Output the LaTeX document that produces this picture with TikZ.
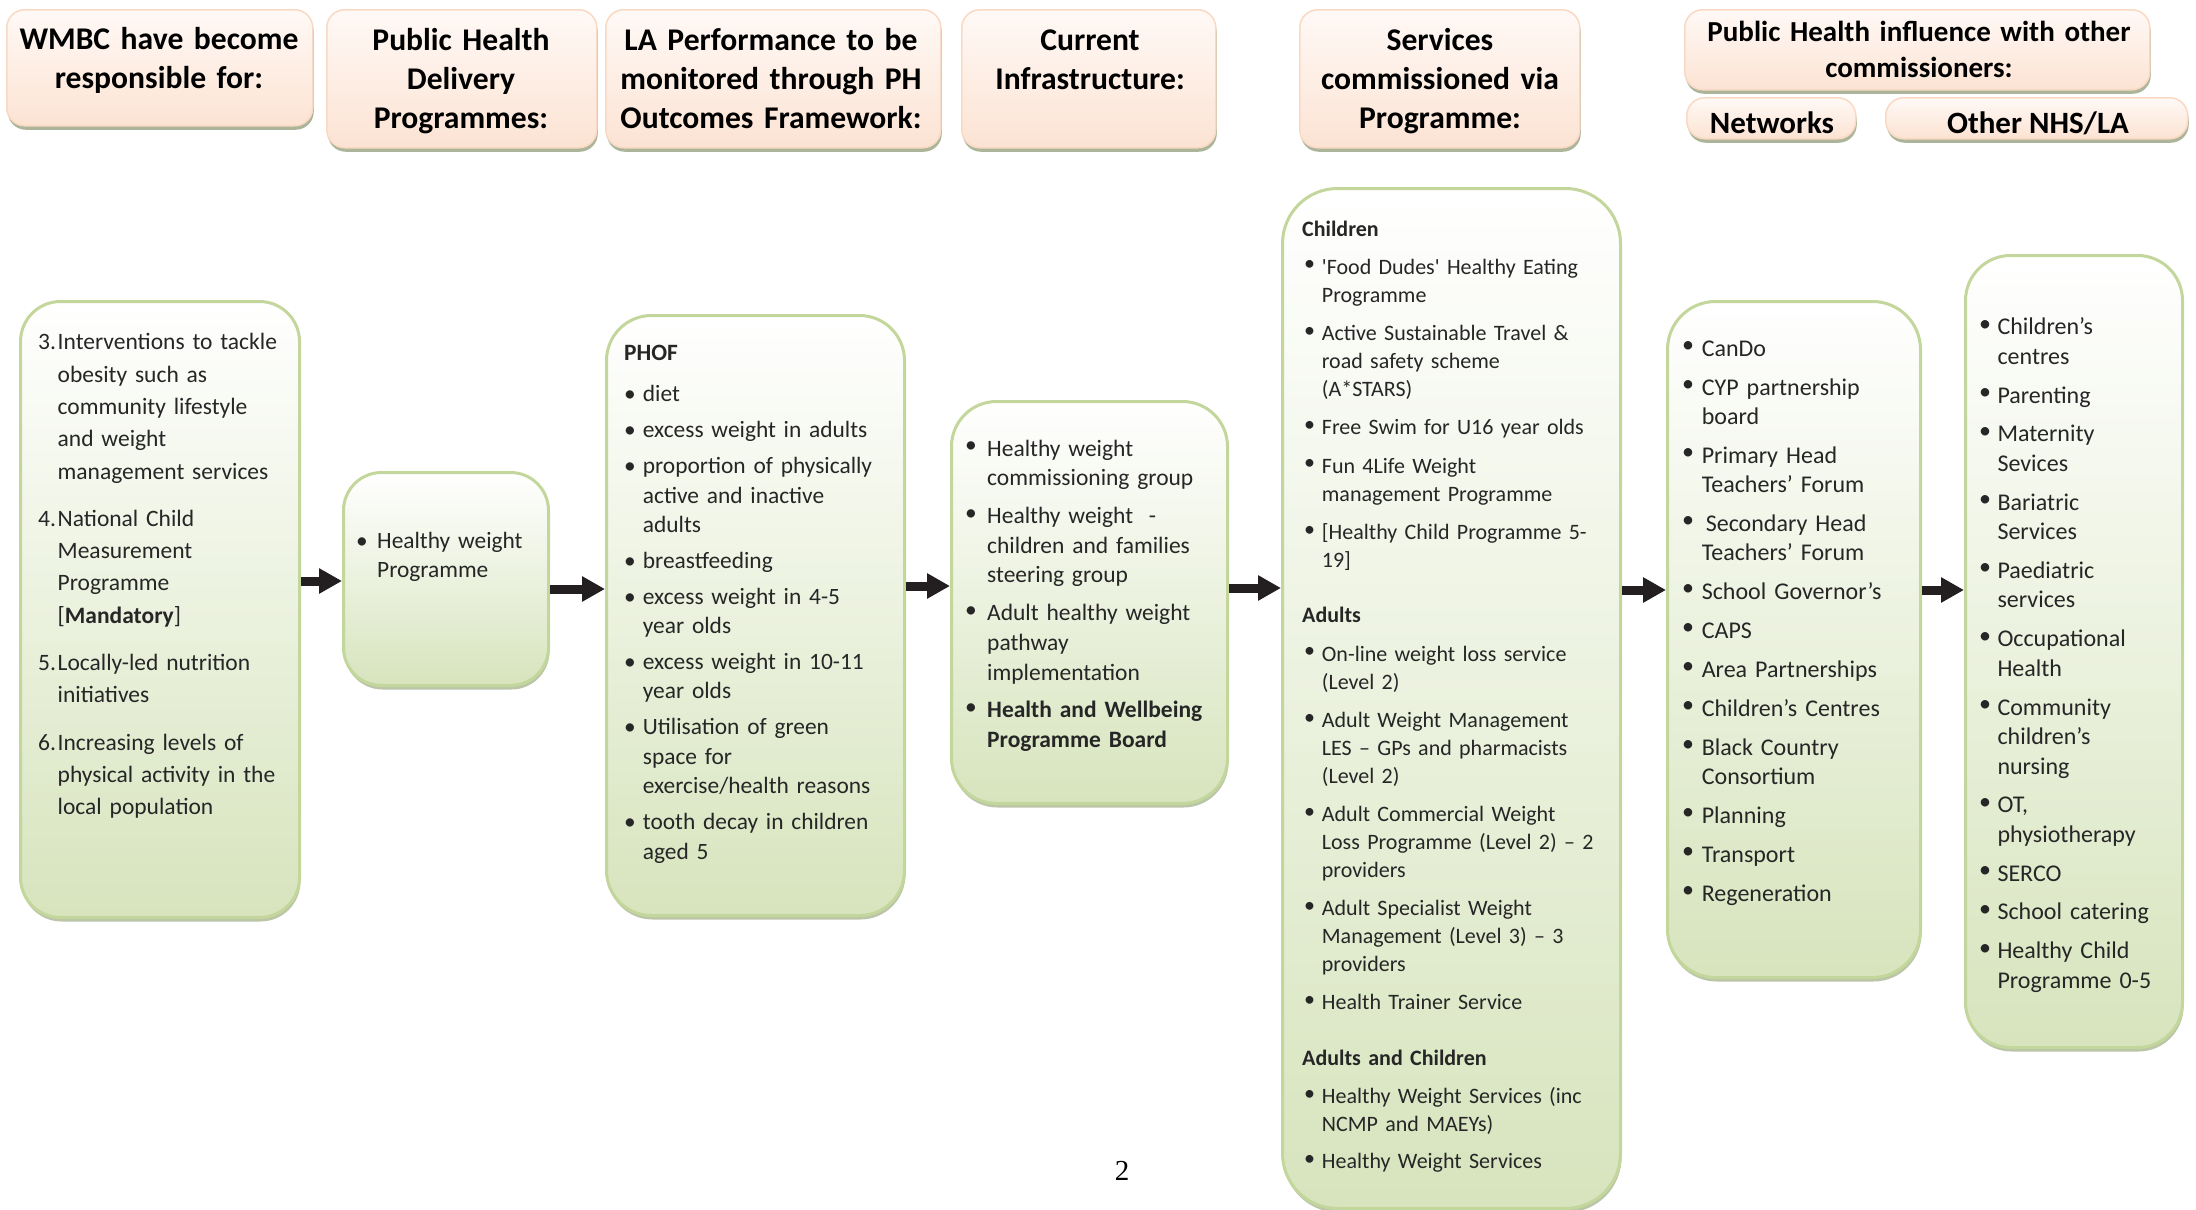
\documentclass[tikz,border=0pt]{standalone}
\usepackage{fontspec}
\setmainfont{Carlito}
\newfontfamily\serifpg{Liberation Serif}
\usetikzlibrary{arrows.meta,shadows}
\definecolor{gfill}{HTML}{D7E4BD}
\definecolor{gline}{HTML}{C3D69B}
\definecolor{pfill}{HTML}{FCE3D3}
\definecolor{ptop}{HTML}{FFF9F6}
\definecolor{pline}{HTML}{FAD9C4}
\definecolor{shd}{HTML}{A3AD8E}
\definecolor{gshd}{HTML}{B4BF9E}
\definecolor{txt}{HTML}{262626}
\definecolor{arrc}{HTML}{231F20}
\newlength\hng
\newcommand\Itm[2]{{\leftskip=\hng\noindent\hspace*{-\hng}\makebox[\hng][l]{#1}\strut#2\par}}
\newcommand\Hd[1]{{\leftskip=0pt\noindent\strut\textbf{#1}\par}}
\newcommand\bul{\textbullet}
\newcommand\rbul{\raisebox{3.5pt}{\textbullet}}
\newcommand\gp[1]{\vspace{#1pt}}
\tikzset{
  hbox/.style={draw=pline, line width=1.5pt, rounded corners=18pt, top color=ptop, bottom color=pfill,
    drop shadow={shadow xshift=1pt, shadow yshift=-4pt, fill=shd, opacity=0.9},
    inner sep=0pt, anchor=north west},
  mbox/.style={draw=gline, line width=3pt, top color=white, bottom color=gfill,
    drop shadow={shadow xshift=1pt, shadow yshift=-4pt, fill=gshd, opacity=0.9},
    inner sep=0pt, anchor=north west},
  htx/.style={anchor=north, inner sep=0pt, text width=340pt, align=center, text=black,
    font=\bfseries\fontsize{31.6}{39}\selectfont},
  btx/.style={anchor=north west, inner sep=0pt, text width=420pt, align=left, text=txt},
  arr/.style={line width=9pt, draw=arrc, -{Triangle[length=23pt,width=24pt]}},
}
\begin{document}
\begin{tikzpicture}[x=1pt,y=-1pt]
\useasboundingbox (0,0) rectangle (2196,1210);
% header boxes
\node[hbox, minimum width=306pt, minimum height=116pt] (h1) at (6,9) {};
\node[hbox, minimum width=270pt, minimum height=138pt] (h2) at (326,9) {};
\node[hbox, minimum width=335pt, minimum height=138pt] (h3) at (605,9) {};
\node[hbox, minimum width=254pt, minimum height=138pt] (h4) at (961,9) {};
\node[hbox, minimum width=280pt, minimum height=138pt] (h5) at (1299,9) {};
\node[hbox, minimum width=465pt, minimum height=80pt] (h6) at (1684,9) {};
\node[hbox, minimum width=169pt, minimum height=41pt] (h7) at (1686,97) {};
\node[hbox, minimum width=302pt, minimum height=41pt] (h8) at (1885,97) {};
\node[htx] (t1) at (159,22) {\strut WMBC have become\\responsible for:};
\node[htx] (t2) at (461,23.4) {\strut Public Health\\Delivery\\Programmes:};
\node[htx] (t3) at (771,23.4) {\strut LA Performance to be\\monitored through PH\\Outcomes Framework:};
\node[htx] (t4) at (1090,23.4) {\strut Current\\Infrastructure:};
\node[htx] (t5) at (1440,23.4) {\strut Services\\commissioned via\\Programme:};
\node[htx, text width=460pt, font=\bfseries\fontsize{29}{36.5}\selectfont] (t6) at (1919,15.7) {\strut Public Health influence with other\\commissioners:};
\node[anchor=base, inner sep=0pt, font=\bfseries\fontsize{31}{36}\selectfont] (t7) at (1772,133) {Networks};
\node[anchor=base, inner sep=0pt, font=\bfseries\fontsize{31}{36}\selectfont] (t8) at (2038,133) {Other NHS/LA};
% main boxes
\node[mbox, rounded corners=40pt, minimum width=279pt, minimum height=616pt] (b1) at (19,300) {};
\node[mbox, rounded corners=38pt, minimum width=205pt, minimum height=213pt] (b2) at (342,471) {};
\node[mbox, rounded corners=45pt, minimum width=298pt, minimum height=600pt] (b3) at (605,314) {};
\node[mbox, rounded corners=45pt, minimum width=276pt, minimum height=402pt] (b4) at (950,400) {};
\node[mbox, rounded corners=55pt, minimum width=338pt, minimum height=1020pt] (b5) at (1281,187) {};
\node[mbox, rounded corners=48pt, minimum width=253pt, minimum height=676pt] (b6) at (1666,300) {};
\node[mbox, rounded corners=45pt, minimum width=217pt, minimum height=792pt] (b7) at (1964,254) {};
% texts
\node[btx, font=\fontsize{23.5}{32.3}\selectfont] (x1) at (38,327) {\setlength\hng{19.5pt}%
\Itm{3.}{Interventions to tackle\\obesity such as\\community lifestyle\\and weight\\management services}\gp{15}
\Itm{4.}{National Child\\Measurement\\Programme\\{}[\textbf{Mandatory}]}\gp{15}
\Itm{5.}{Locally-led nutrition\\initiatives}\gp{15}
\Itm{6.}{Increasing levels of\\physical activity in the\\local population}};
\node[btx, font=\fontsize{23.4}{29}\selectfont] (x2) at (356,527.7) {\setlength\hng{21pt}%
\Itm{\bul}{Healthy weight\\Programme}};
\node[btx, font=\fontsize{23.4}{29.5}\selectfont] (x3) at (624,339.4) {\setlength\hng{18.7pt}%
\Hd{PHOF}\gp{12.2}
\Itm{\bul}{diet}\gp{6.3}
\Itm{\bul}{excess weight in adults}\gp{6.3}
\Itm{\bul}{proportion of physically\\active and inactive\\adults}\gp{6.3}
\Itm{\bul}{breastfeeding}\gp{6.3}
\Itm{\bul}{excess weight in 4-5\\year olds}\gp{6.3}
\Itm{\bul}{excess weight in 10-11\\year olds}\gp{6.3}
\Itm{\bul}{Utilisation of green\\space for\\exercise/health reasons}\gp{6.3}
\Itm{\bul}{tooth decay in children\\aged 5}};
\node[btx, font=\fontsize{23.5}{29.7}\selectfont] (x4) at (965,435.2) {\setlength\hng{22pt}%
\Itm{\rbul}{Healthy weight\\commissioning group}\gp{8}
\Itm{\rbul}{Healthy weight~~-\\children and families\\steering group}\gp{8}
\Itm{\rbul}{Adult healthy weight\\pathway\\implementation}\gp{8}
\Itm{\rbul}{\textbf{Health and Wellbeing\\Programme Board}}};
\node[btx, font=\fontsize{22}{27.7}\selectfont] (x5) at (1302,216.8) {\setlength\hng{19.7pt}%
\Hd{Children}\gp{10.4}
\Itm{\hspace{2pt}\rbul}{\textquotesingle Food Dudes\textquotesingle{} Healthy Eating\\Programme}\gp{10.9}
\Itm{\hspace{2pt}\rbul}{Active Sustainable Travel \&\\road safety scheme\\(A*STARS)}\gp{10.9}
\Itm{\hspace{2pt}\rbul}{Free Swim for U16 year olds}\gp{10.9}
\Itm{\hspace{2pt}\rbul}{Fun 4Life Weight\\management Programme}\gp{10.9}
\Itm{\hspace{2pt}\rbul}{[Healthy Child Programme 5-\\19]}\gp{27.5}
\Hd{Adults}\gp{11.2}
\Itm{\hspace{2pt}\rbul}{On-line weight loss service\\(Level 2)}\gp{10.9}
\Itm{\hspace{2pt}\rbul}{Adult Weight Management\\LES – GPs and pharmacists\\(Level 2)}\gp{10.9}
\Itm{\hspace{2pt}\rbul}{Adult Commercial Weight\\Loss Programme (Level 2) – 2\\providers}\gp{10.9}
\Itm{\hspace{2pt}\rbul}{Adult Specialist Weight\\Management (Level 3) – 3\\providers}\gp{10.9}
\Itm{\hspace{2pt}\rbul}{Health Trainer Service}\gp{28}
\Hd{Adults and Children}\gp{10.6}
\Itm{\hspace{2pt}\rbul}{Healthy Weight Services (inc\\NCMP and MAEYs)}\gp{9.8}
\Itm{\hspace{2pt}\rbul}{Healthy Weight Services}};
\node[btx, font=\fontsize{24}{29}\selectfont] (x6) at (1682,335.7) {\setlength\hng{19.6pt}%
\Itm{\rbul}{CanDo}\gp{10}
\Itm{\rbul}{CYP partnership\\board}\gp{10}
\Itm{\rbul}{Primary Head\\Teachers’ Forum}\gp{10}
\Itm{\rbul}{\hspace{4pt}Secondary Head\\Teachers’ Forum}\gp{10}
\Itm{\rbul}{School Governor’s}\gp{10}
\Itm{\rbul}{CAPS}\gp{10}
\Itm{\rbul}{Area Partnerships}\gp{10}
\Itm{\rbul}{Children’s Centres}\gp{10}
\Itm{\rbul}{Black Country\\Consortium}\gp{10}
\Itm{\rbul}{Planning}\gp{10}
\Itm{\rbul}{Transport}\gp{10}
\Itm{\rbul}{Regeneration}};
\node[btx, font=\fontsize{24}{29.5}\selectfont] (x7) at (1979,313.9) {\setlength\hng{18.3pt}%
\Itm{\rbul}{Children’s\\centres}\gp{9.3}
\Itm{\rbul}{Parenting}\gp{9.3}
\Itm{\rbul}{Maternity\\Sevices}\gp{9.3}
\Itm{\rbul}{Bariatric\\Services}\gp{9.3}
\Itm{\rbul}{Paediatric\\services}\gp{9.3}
\Itm{\rbul}{Occupational\\Health}\gp{9.3}
\Itm{\rbul}{Community\\children’s\\nursing}\gp{9.3}
\Itm{\rbul}{OT,\\physiotherapy}\gp{9.3}
\Itm{\rbul}{SERCO}\gp{9.3}
\Itm{\rbul}{School catering}\gp{9.3}
\Itm{\rbul}{Healthy Child\\Programme 0-5}};
% arrows
\coordinate (r1) at (0,581);
\coordinate (r2) at (0,589);
\coordinate (r3) at (0,586);
\coordinate (r4) at (0,588);
\coordinate (r5) at (0,590);
\coordinate (r6) at (0,590);
\draw[arr] (b1.east |- r1) -- (b2.west |- r1);
\draw[arr] (b2.east |- r2) -- (b3.west |- r2);
\draw[arr] (b3.east |- r3) -- (b4.west |- r3);
\draw[arr] (b4.east |- r4) -- (b5.west |- r4);
\draw[arr] (b5.east |- r5) -- (b6.west |- r5);
\draw[arr] (b6.east |- r6) -- (b7.west |- r6);
% page number
\node[anchor=base, inner sep=0pt, font=\serifpg\fontsize{29}{30}\selectfont] (pg) at (1122,1180) {2};
\end{tikzpicture}
\end{document}
